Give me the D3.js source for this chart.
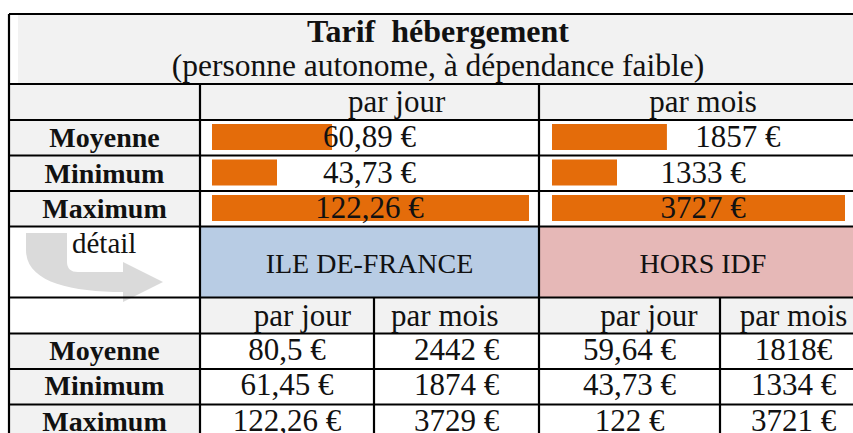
<!DOCTYPE html>
<html>
<head>
<meta charset="utf-8">
<script src="https://cdn.jsdelivr.net/npm/d3@7"></script>
<style>
  body { margin: 0; background: #fff; }
  text { font-family: "Liberation Serif", "DejaVu Serif", serif; fill: #111; white-space: pre; }
</style>
</head>
<body>
<div id="chart"></div>
<script>
// summary
var statLabels = ["Moyenne", "Minimum", "Maximum"];
var jourValues = [60.89, 43.73, 122.26];
var moisValues = [1857, 1333, 3727];
var jourLabels = ["60,89 €", "43,73 €", "122,26 €"];
var moisLabels = ["\u00a0\u00a0\u00a0\u00a0\u00a0\u00a0\u00a0\u00a0\u00a01857 €", "1333 €", "3727 €"];
var topHeaders = ["\u00a0\u00a0\u00a0\u00a0\u00a0\u00a0\u00a0par jour", "par mois"];

// detail
var regions = ["ILE DE-FRANCE", "HORS IDF"];
var subHeaders = ["\u00a0\u00a0\u00a0\u00a0par jour", "par mois\u00a0\u00a0\u00a0", "\u00a0\u00a0\u00a0\u00a0\u00a0par jour", "par mois"];
var idfJour = ["80,5 €", "61,45 €", "122,26 €"];
var idfMois = ["2442 €", "1874 €", "3729 €"];
var horsJour = ["59,64 €", "43,73 €", "122 €"];
var horsMois = ["1818€", "1334 €", "3721 €"];

var title = "Tarif  hébergement";
var subtitle = "(personne autonome, à dépendance faible)";

var width = 853, height = 433;

var svg = d3.select("#chart").append("svg")
    .attr("width", width)
    .attr("height", height);

// column edges and row heights of the table
var colX = [9, 200, 374, 539, 720, 867];
var rowH = [70, 36, 35.5, 35.5, 35.5, 71, 36, 35.5, 35.5, 35.5];
var rowY = [14];
rowH.forEach(function(h, i) { rowY.push(rowY[i] + h); });

var gray = "#f2f2f2", orange = "#e46c0a";

function cell(x0, x1, y0, y1, fill) {
    svg.append("rect")
        .attr("x", x0).attr("y", y0)
        .attr("width", x1 - x0).attr("height", y1 - y0)
        .attr("fill", fill);
}
function label(txt, cx, y, opts) {
    opts = opts || {};
    svg.append("text")
        .attr("x", cx).attr("y", y)
        .attr("text-anchor", opts.anchor || "middle")
        .style("font-size", (opts.size || 31) + "px")
        .style("font-weight", opts.bold ? "bold" : "normal")
        .text(txt);
}

// backgrounds
cell(18, colX[5], rowY[0], rowY[1], gray);
cell(colX[0], colX[5], rowY[1], rowY[2], gray);
for (var r = 2; r < 5; r++) cell(colX[0], colX[1], rowY[r], rowY[r + 1], gray);
cell(colX[1], colX[3], rowY[5], rowY[6], "#b8cce4");
cell(colX[3], colX[5], rowY[5], rowY[6], "#e6b8b7");
cell(colX[1], colX[5], rowY[6], rowY[7], gray);
for (var r2 = 7; r2 < 10; r2++) cell(colX[0], colX[1], rowY[r2], rowY[r2 + 1], gray);

// data bars
var xJour = d3.scaleLinear()
    .domain([d3.min(jourValues), d3.max(jourValues)])
    .range([65, 317]);
var xMois = d3.scaleLinear()
    .domain([d3.min(moisValues), d3.max(moisValues)])
    .range([65, 293]);

svg.selectAll(".barJour")
    .data(jourValues)
    .enter().append("rect")
    .attr("x", colX[1] + 12)
    .attr("y", function(d, i) { return rowY[i + 2] + 4; })
    .attr("width", function(d) { return xJour(d); })
    .attr("height", 26)
    .attr("fill", orange);

svg.selectAll(".barMois")
    .data(moisValues)
    .enter().append("rect")
    .attr("x", colX[3] + 13)
    .attr("y", function(d, i) { return rowY[i + 2] + 4; })
    .attr("width", function(d) { return xMois(d); })
    .attr("height", 26)
    .attr("fill", orange);

// curved "détail" arrow
svg.append("path")
    .attr("d", "M26,233 L67,233 L67,262 Q67,272 78,272 L123,272 L123,262 L163,282 L123,302 L123,292 " +
               "C70,292 26,282 26,250 Z")
    .attr("fill", "#dadada");

// grid lines
var lines = svg.append("g").attr("stroke", "#000").attr("stroke-width", 2.2);
rowY.forEach(function(y) {
    lines.append("line").attr("x1", colX[0]).attr("x2", colX[5]).attr("y1", y).attr("y2", y);
});
function vline(x, y0, y1) {
    lines.append("line").attr("x1", x).attr("x2", x).attr("y1", y0).attr("y2", y1);
}
vline(colX[0], rowY[0], rowY[10]);
vline(colX[5], rowY[0], rowY[10]);
vline(colX[1], rowY[1], rowY[10]);
vline(colX[3], rowY[1], rowY[10]);
vline(colX[2], rowY[6], rowY[10]);
vline(colX[4], rowY[6], rowY[10]);

// title
var midX = (colX[0] + colX[5]) / 2;
label(title, midX, 42, {bold: true, size: 32});
label(subtitle, midX, 76, {size: 31.5});

// summary headers
label(topHeaders[0], (colX[1] + colX[3]) / 2, 112);
label(topHeaders[1], (colX[3] + colX[5]) / 2, 112);

statLabels.forEach(function(s, i) {
    label(s, (colX[0] + colX[1]) / 2, rowY[i + 2] + 27, {bold: true, size: 28});
    label(jourLabels[i], (colX[1] + colX[3]) / 2, rowY[i + 2] + 27);
    label(moisLabels[i], (colX[3] + colX[5]) / 2, rowY[i + 2] + 27);
});

// detail
label("détail", 72, 253, {anchor: "start", size: 29});
regions.forEach(function(reg, i) {
    label(reg, (colX[1 + 2 * i] + colX[3 + 2 * i]) / 2, 273, {size: 28});
});
subHeaders.forEach(function(h, j) {
    label(h, (colX[j + 1] + colX[j + 2]) / 2, rowY[6] + 28);
});
var detail = [idfJour, idfMois, horsJour, horsMois];
statLabels.forEach(function(s, i) {
    label(s, (colX[0] + colX[1]) / 2, rowY[i + 7] + 26, {bold: true, size: 28});
    detail.forEach(function(col, j) {
        label(col[i], (colX[j + 1] + colX[j + 2]) / 2, rowY[i + 7] + 26);
    });
});
</script>
</body>
</html>
